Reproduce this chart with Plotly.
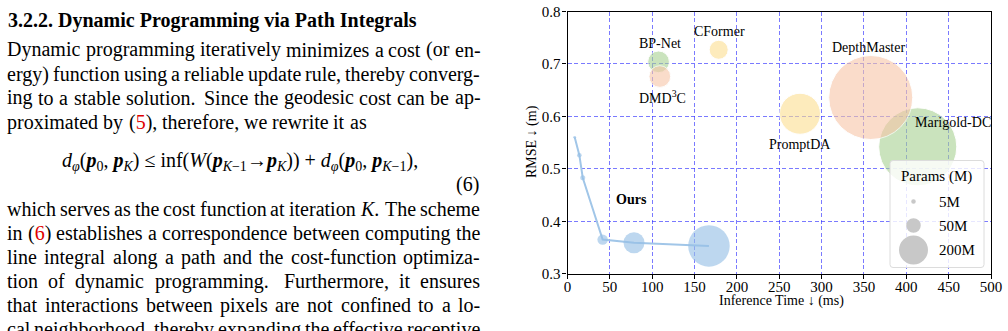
import re
import math
import plotly.graph_objects as go

# ---------------- data ----------------
ours_time = [8.5, 14.0, 18.0, 41.5, 78.5, 167.0]
ours_rmse = [0.560, 0.526, 0.483, 0.365, 0.359, 0.353]
ours_params = [2, 5, 6, 26, 105, 410]

models = ["Marigold-DC", "DepthMaster", "PromptDA", "CFormer", "BP-Net", "DMD<sup>3</sup>C"]
model_time = [413.5, 358.0, 274.5, 178.5, 107.5, 109.0]
model_rmse = [0.542, 0.636, 0.605, 0.727, 0.704, 0.676]
model_params = [1450, 1680, 400, 86, 112, 112]

legend_params = [5, 50, 200]
legend_labels = ["5M", "50M", "200M"]

x_ticks = [0, 50, 100, 150, 200, 250, 300, 350, 400, 450, 500]
y_ticks = [0.3, 0.4, 0.5, 0.6, 0.7, 0.8]

heading = "3.2.2. Dynamic Programming via Path Integrals"
para1 = [
    ("Dynamic programming iteratively minimizes a cost (or en-", True),
    ("ergy) function using a reliable update rule, thereby converg-", True),
    ("ing to a stable solution. Since the geodesic cost can be ap-", True),
    ("proximated by (<span style='color:#e00000'>5</span>), therefore, we rewrite it as", False),
]
para2 = [
    ("which serves as the cost function at iteration <i>K</i>. The scheme", True),
    ("in (<span style='color:#e00000'>6</span>) establishes a correspondence between computing the", True),
    ("line integral along a path and the cost-function optimiza-", True),
    ("tion of dynamic programming. Furthermore, it ensures", True),
    ("that interactions between pixels are not confined to a lo-", True),
    ("cal neighborhood, thereby expanding the effective receptive", True),
]
equation = ("<i>d</i><sub><i>φ</i></sub>(<b><i>p</i></b><sub>0</sub>, <b><i>p</i></b><sub><i>K</i></sub>)"
            " ≤ inf(<i>W</i>(<b><i>p</i></b><sub><i>K</i>−1</sub>→<b><i>p</i></b><sub><i>K</i></sub>))"
            " + <i>d</i><sub><i>φ</i></sub>(<b><i>p</i></b><sub>0</sub>, <b><i>p</i></b><sub><i>K</i>−1</sub>),")

# ---------------- styling helpers ----------------
FW, FH = 1008, 331
SERIF = "Liberation Serif"


def bubble(p):
    return 2.05 * math.sqrt(p)


model_colors = ["rgba(168,209,146,0.85)", "rgba(247,198,168,0.85)", "rgba(253,222,143,0.85)",
                "rgba(253,222,143,0.85)", "rgba(168,209,146,0.85)", "rgba(247,198,168,0.85)"]
label_offsets = {"Marigold-DC": (35, 24), "DepthMaster": (-2, 50), "PromptDA": (0, -31),
                 "CFormer": (1, 18), "BP-Net": (1, 18), "DMD<sup>3</sup>C": (3, -20)}

# Times-like advance widths (per 1000 em)
TW = {' ': 250, '!': 333, '(': 333, ')': 333, ',': 250, '-': 333, '.': 250, ':': 278, ';': 278,
      '0': 500, '1': 500, '2': 500, '3': 500, '4': 500, '5': 500, '6': 500, '7': 500, '8': 500, '9': 500,
      'A': 722, 'B': 667, 'C': 667, 'D': 722, 'E': 611, 'F': 556, 'G': 722, 'H': 722, 'I': 333, 'J': 389,
      'K': 722, 'L': 611, 'M': 889, 'N': 722, 'O': 722, 'P': 556, 'Q': 722, 'R': 667, 'S': 556, 'T': 611,
      'U': 722, 'V': 722, 'W': 944, 'X': 722, 'Y': 722, 'Z': 611,
      'a': 444, 'b': 500, 'c': 444, 'd': 500, 'e': 444, 'f': 333, 'g': 500, 'h': 500, 'i': 278, 'j': 278,
      'k': 500, 'l': 278, 'm': 778, 'n': 500, 'o': 500, 'p': 500, 'q': 500, 'r': 333, 's': 389, 't': 278,
      'u': 500, 'v': 500, 'w': 722, 'x': 500, 'y': 500, 'z': 444}
FS = 20
LEFT, RIGHT = 7.3, 480.3


def tw(s):
    plain = re.sub(r"<[^>]+>", "", s)
    return sum(TW.get(c, 500) for c in plain) * FS / 1000.0


annotations = []


def text_ann(txt, xpx, ypx, xanchor="center", size=FS, color="black", **kw):
    annotations.append(dict(text=txt, x=xpx / FW, y=1 - ypx / FH, xref="paper", yref="paper",
                            xanchor=xanchor, yanchor="middle", showarrow=False,
                            font=dict(family=SERIF, size=size, color=color), borderpad=0, **kw))


def place_line(line, ypx, justify):
    words = re.split(r" (?![^<]*>)", line)
    widths = [tw(w) for w in words]
    weights = [1.5 if re.sub(r"<[^>]+>", "", w).endswith(".") else 1.0 for w in words[:-1]]
    if justify and len(words) > 1:
        unit = (RIGHT - LEFT - sum(widths)) / sum(weights)
    else:
        unit = 0.25 * FS
    x = LEFT
    for i, (w, wd) in enumerate(zip(words, widths)):
        text_ann(w, x + wd / 2, ypx)
        if i < len(weights):
            x += wd + unit * weights[i]


# heading + paragraphs
text_ann("<b>" + heading + "</b>", LEFT, 20, xanchor="left")
for i, (ln, j) in enumerate(para1):
    place_line(ln, 50 + 24 * i, j)
text_ann(equation, 240, 162)
text_ann("(6)", RIGHT, 184, xanchor="right")
for i, (ln, j) in enumerate(para2):
    place_line(ln, 209 + 24 * i, j)

# ---------------- chart ----------------
fig = go.Figure()

fig.add_trace(go.Scatter(
    x=model_time, y=model_rmse, mode="markers",
    marker=dict(size=[bubble(p) for p in model_params], sizemode="diameter",
                color=model_colors, line=dict(color="white", width=1)),
    showlegend=False, hoverinfo="skip"))

fig.add_trace(go.Scatter(
    x=ours_time, y=ours_rmse, mode="lines+markers",
    line=dict(color="rgb(161,198,232)", width=2),
    marker=dict(size=[bubble(p) for p in ours_params], sizemode="diameter",
                color="rgba(150,191,230,0.9)", line=dict(width=0)),
    showlegend=False, hoverinfo="skip"))

# model labels
for name, xt, yr in zip(models, model_time, model_rmse):
    dx, dy = label_offsets[name]
    annotations.append(dict(text=name, x=xt, y=yr, xref="x", yref="y", showarrow=False,
                            xshift=dx, yshift=dy, font=dict(family=SERIF, size=14, color="black")))
annotations.append(dict(text="<b>Ours</b>", x=ours_time[4], y=ours_rmse[4], xref="x", yref="y",
                        showarrow=False, xshift=-2, yshift=43,
                        font=dict(family=SERIF, size=14, color="black")))

# axis titles
text_ann("Inference Time ↓ (ms)", 781, 301, size=14)
annotations.append(dict(text="RMSE ↓ (m)", x=532 / FW, y=1 - 142 / FH, xref="paper", yref="paper",
                        textangle=-90, showarrow=False, xanchor="center", yanchor="middle",
                        font=dict(family=SERIF, size=14, color="black")))

# manual size legend
shapes = []
bx0, bx1, by0, by1 = 890, 984, 160.5, 267.5
r = 3
path = (f"M {(bx0 + r) / FW},{1 - by0 / FH} L {(bx1 - r) / FW},{1 - by0 / FH} "
        f"Q {bx1 / FW},{1 - by0 / FH} {bx1 / FW},{1 - (by0 + r) / FH} "
        f"L {bx1 / FW},{1 - (by1 - r) / FH} Q {bx1 / FW},{1 - by1 / FH} {(bx1 - r) / FW},{1 - by1 / FH} "
        f"L {(bx0 + r) / FW},{1 - by1 / FH} Q {bx0 / FW},{1 - by1 / FH} {bx0 / FW},{1 - (by1 - r) / FH} "
        f"L {bx0 / FW},{1 - (by0 + r) / FH} Q {bx0 / FW},{1 - by0 / FH} {(bx0 + r) / FW},{1 - by0 / FH} Z")
shapes.append(dict(type="path", path=path, xref="paper", yref="paper", layer="above",
                   fillcolor="rgba(255,255,255,0.82)", line=dict(color="rgb(220,220,220)", width=1)))
text_ann("Params (M)", 936.5, 176, size=15)
leg_y = [201.5, 225.5, 250]
for p, lab, ly in zip(legend_params, legend_labels, leg_y):
    d = bubble(p)
    shapes.append(dict(type="circle", xref="paper", yref="paper", xsizemode="pixel", ysizemode="pixel",
                       xanchor=913.5 / FW, yanchor=1 - ly / FH, x0=-d / 2, x1=d / 2, y0=-d / 2, y1=d / 2,
                       fillcolor="rgb(200,200,200)", line=dict(width=0), layer="above"))
    text_ann(lab, 938.3, ly, xanchor="left", size=15)

axis_common = dict(showline=True, linecolor="black", linewidth=1.2, mirror=True,
                   ticks="outside", ticklen=4, tickcolor="black", tickwidth=1,
                   showgrid=True, gridcolor="rgba(40,40,255,0.62)", griddash="4px,2.5px", gridwidth=1,
                   zeroline=False, automargin=False,
                   tickfont=dict(family=SERIF, size=15, color="black"))

fig.update_layout(
    template="none",
    width=FW, height=FH, margin=dict(l=0, r=0, t=0, b=0, pad=0, autoexpand=False),
    paper_bgcolor="white", plot_bgcolor="white",
    xaxis=dict(domain=[567.5 / FW, 991 / FW], range=[0, 500], tickvals=x_ticks,
               ticktext=[str(v) for v in x_ticks], ticklabelstandoff=-5, **axis_common),
    yaxis=dict(domain=[1 - 273.7 / FH, 1 - 11.5 / FH], range=[0.3, 0.8], tickvals=y_ticks,
               ticktext=[f"{v:.1f}" for v in y_ticks], ticklabelstandoff=-1, **axis_common),
    annotations=annotations, shapes=shapes, showlegend=False,
)

fig.write_html("out.html")
